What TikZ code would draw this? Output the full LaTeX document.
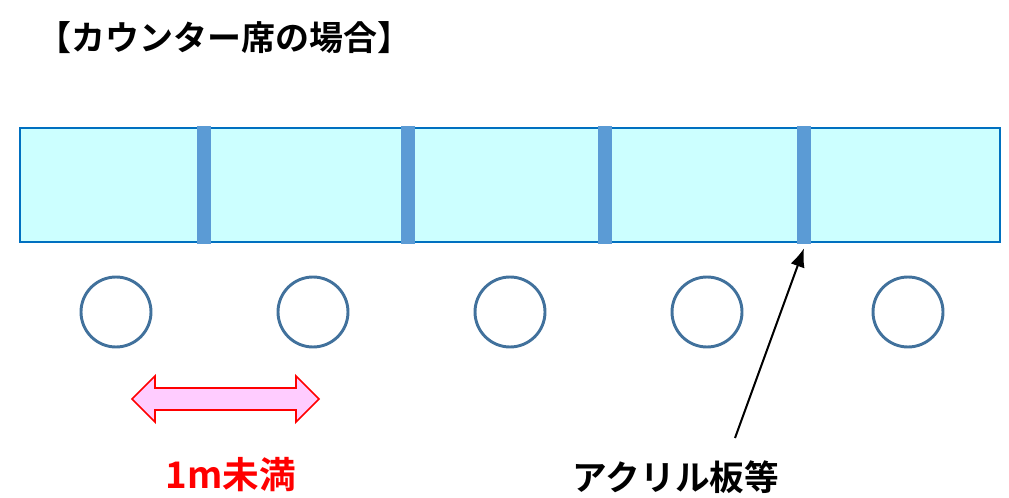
\documentclass[tikz,border=0pt]{standalone}
\usepackage{fontspec}
\setmainfont{Noto Sans CJK JP}[BoldFont={Noto Sans CJK JP Bold}]
\usetikzlibrary{positioning,arrows.meta}
\definecolor{counterfill}{HTML}{CCFFFF}
\definecolor{counterline}{HTML}{0070C0}
\definecolor{panelblue}{HTML}{5B9BD5}
\definecolor{seatline}{HTML}{41719C}
\definecolor{gappink}{HTML}{FFCCFF}
\tikzset{
	seat/.style={circle,draw=seatline,line width=2.2pt,minimum size=52.5pt,inner sep=0pt},
	panel/.style={rectangle,fill=panelblue,minimum width=10.5pt,minimum height=88.5pt,inner sep=0pt},
	bigtext/.style={font=\fontsize{26}{30}\selectfont\bfseries,inner sep=0pt}
}
\begin{document}
\begin{tikzpicture}[x=0.75pt,y=-0.75pt]
			\useasboundingbox (0,0) rectangle (1009,498);
			\node[bigtext,anchor=west,font=\fontsize{25.5}{30}\selectfont\bfseries] (title) at (37,38) {【カウンター席の場合】};
			%counter top
			\draw[fill=counterfill,draw=counterline,line width=1.5pt] (20,128) rectangle (1000,242);
			\foreach \px/\pn in {204/a,408/b,605/c,804/d}
				\node[panel] (panel-\pn) at (\px,185) {};
			%seats
			\foreach \sx/\sn in {116/1,313/2,510/3,707/4,908/5}
				\node[seat] (seat-\sn) at (\sx,312) {};
			%distance arrow
			\filldraw[fill=gappink,draw=red,line width=1.3pt,line join=miter] (132,399) -- (155,376) -- (155,388) -- (296,388) -- (296,376) -- (319,399)
				-- (296,422) -- (296,410) -- (155,410) -- (155,422) -- cycle;
			\node[bigtext,text=red,font=\fontsize{27.5}{30}\selectfont\bfseries] (gap) at (231,475) {1m未満};
			\node[bigtext] (acryl) at (676,477) {アクリル板等};
			\coordinate (tail) at (735,438);
			\draw[-{Latex[length=14pt,width=11pt]},line width=1.5pt] (tail) -- ([yshift=-3pt]panel-d.south);
\end{tikzpicture}
\end{document}
